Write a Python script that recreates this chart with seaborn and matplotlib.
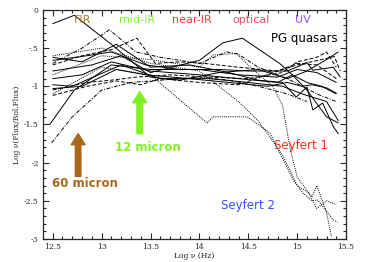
import numpy as np
import matplotlib
matplotlib.use("Agg")
import matplotlib.pyplot as plt
import seaborn as sns
from matplotlib.ticker import MultipleLocator

# PG quasars, solid lines (log nu, log nuF/Fbol)
pg_solid = [
    ([12.5, 12.72, 13.1, 13.5, 13.8, 14.2, 14.6, 14.9, 15.1, 15.3, 15.42],
     [-0.18, -0.07, -0.45, -0.88, -0.92, -0.82, -0.78, -0.9, -0.8, -0.65, -0.55]),
    ([12.5, 12.8, 13.15, 13.5, 13.9, 14.3, 14.6, 14.85, 14.99, 15.1, 15.16, 15.26, 15.37, 15.42],
     [-0.62, -0.68, -0.45, -0.75, -0.72, -0.82, -0.92, -0.95, -1.14, -1.01, -1.31, -1.22, -1.53, -1.62]),
    ([12.5, 12.85, 13.1, 13.45, 13.8, 14.2, 14.5, 14.9, 15.1, 15.16, 15.37, 15.44],
     [-0.66, -0.6, -0.55, -0.72, -0.78, -0.78, -0.8, -0.8, -0.69, -0.79, -0.75, -0.88]),
    ([12.5, 12.9, 13.2, 13.5, 14.0, 14.24, 14.44, 14.82, 14.95, 15.1, 15.25, 15.4],
     [-0.8, -0.72, -0.6, -0.82, -0.66, -0.43, -0.37, -0.7, -0.85, -0.95, -1.0, -1.1]),
    ([12.5, 12.8, 13.1, 13.5, 14.0, 14.4, 14.8, 14.95, 15.1, 15.3, 15.42],
     [-0.9, -0.85, -0.68, -0.8, -0.85, -0.9, -0.95, -0.85, -1.05, -1.4, -1.48]),
    ([12.5, 12.8, 13.15, 13.45, 13.9, 14.3, 14.7, 14.9, 15.05, 15.15, 15.3, 15.4],
     [-1.03, -1.0, -0.78, -0.85, -0.9, -0.95, -1.0, -0.95, -1.0, -0.98, -1.02, -1.09]),
    ([12.47, 12.72, 13.1, 13.5, 14.0, 14.4, 14.8, 15.0, 15.2, 15.4],
     [-1.5, -1.05, -0.72, -0.78, -0.78, -0.85, -0.88, -0.78, -0.82, -0.95]),
    ([12.5, 12.7, 13.2, 13.6, 14.1, 14.5, 14.85, 15.05, 15.3, 15.42],
     [-0.98, -1.0, -0.72, -0.9, -0.9, -0.95, -1.0, -1.1, -1.2, -1.45]),
]

# PG quasars, dashed lines
pg_dashed = [
    ([12.5, 12.85, 13.1, 13.35, 13.7, 14.1, 14.5, 14.85, 15.0, 15.2, 15.3, 15.4],
     [-1.05, -0.95, -0.92, -0.88, -0.85, -0.88, -0.9, -0.82, -0.68, -0.62, -0.55, -0.75]),
    ([12.5, 12.85, 13.15, 13.4, 13.6, 14.0, 14.4, 14.8, 15.0, 15.25, 15.38, 15.44],
     [-1.12, -1.0, -0.93, -0.98, -0.9, -0.95, -0.98, -0.8, -0.72, -0.65, -0.61, -0.8]),
    ([12.5, 12.8, 13.1, 13.36, 13.55, 13.8, 14.05, 14.4, 14.8, 15.0, 15.2, 15.4],
     [-0.72, -0.6, -0.52, -0.37, -0.7, -0.68, -0.7, -0.75, -0.8, -0.7, -0.72, -0.9]),
]

# dash-dot lines
pg_dashdot = [
    ([12.5, 12.8, 13.08, 13.35, 13.6, 14.0, 14.28, 14.4, 14.6, 14.9, 15.2, 15.4],
     [-0.7, -0.5, -0.26, -0.55, -0.62, -0.7, -0.55, -0.58, -0.75, -0.9, -1.1, -1.2]),
    ([12.49, 12.7, 13.0, 13.3, 13.6, 14.0, 14.3, 14.6, 14.9, 15.1],
     [-1.74, -1.4, -1.05, -0.95, -0.92, -0.88, -0.92, -1.0, -1.1, -1.2]),
]

# Seyferts, dotted lines
seyfert = [
    ([12.5, 13.0, 13.5, 14.0, 14.14, 14.38, 14.52, 14.75, 14.85, 14.93, 15.0, 15.15, 15.2, 15.3, 15.35],
     [-0.85, -0.6, -0.65, -0.75, -0.59, -0.57, -0.75, -1.0, -1.25, -1.83, -2.19, -2.45, -2.3, -2.65, -2.97]),
    ([12.5, 13.0, 13.5, 13.8, 14.08, 14.14, 14.49, 14.72, 14.96, 15.06, 15.15, 15.21, 15.37, 15.41],
     [-1.1, -0.75, -0.85, -1.18, -1.48, -1.40, -1.40, -1.61, -2.23, -2.4, -2.5, -2.49, -2.75, -2.78]),
    ([12.5, 13.0, 13.5, 14.0, 14.4, 14.6, 14.85, 15.0, 15.12, 15.2, 15.3, 15.4],
     [-0.6, -0.5, -0.7, -0.8, -1.2, -1.45, -1.9, -2.3, -2.4, -2.6, -2.5, -2.55]),
]

band_names = ["FIR", "mid-IR", "near-IR", "optical", "UV"]
band_x = [12.81, 13.36, 13.92, 14.53, 15.06]
band_colors = ["#b07a28", "#7ff23a", "#ff3a3a", "#e0506a", "#a050f0"]

sns.set_style("ticks")
fig = plt.figure(figsize=(3.67, 2.62), dpi=100)
ax = fig.add_axes([0.117, 0.088, 0.826, 0.874])

groups = [(pg_solid, "-"), (pg_dashed, (0, (4, 2))), (pg_dashdot, (0, (4, 1.5, 1, 1.5))),
          (seyfert, (0, (1, 1.2)))]
for lines, ls in groups:
    for xs, ys in lines:
        sns.lineplot(x=xs, y=ys, ax=ax, color="black", linewidth=0.7, linestyle=ls,
                     sort=False, estimator=None)

ax.set_xlim(12.4, 15.5)
ax.set_ylim(-3, 0)
ax.set_xticks([12.5, 13, 13.5, 14, 14.5, 15, 15.5])
ax.set_xticklabels(["12.5", "13", "13.5", "14", "14.5", "15", "15.5"])
ax.set_yticks([0, -0.5, -1, -1.5, -2, -2.5, -3])
ax.set_yticklabels(["0", "-.5", "-1", "-1.5", "-2", "-2.5", "-3"])
ax.xaxis.set_minor_locator(MultipleLocator(0.1))
ax.yaxis.set_minor_locator(MultipleLocator(0.1))
ax.tick_params(which="both", direction="in", top=True, right=True, width=0.8)
ax.tick_params(which="major", length=4, labelsize=5.5, pad=3)
ax.tick_params(which="minor", length=2)
for lab in ax.get_xticklabels() + ax.get_yticklabels():
    lab.set_family("DejaVu Serif")
for s in ax.spines.values():
    s.set_linewidth(0.9)

ax.set_xlabel("Log ν (Hz)", fontsize=5.5, family="DejaVu Serif", labelpad=1)
ax.set_ylabel("Log ν(Flux/Bol.Flux)", fontsize=5.5, family="DejaVu Serif", labelpad=2)

for name, bx, c in zip(band_names, band_x, band_colors):
    ax.text(bx, -0.13, name, color=c, fontsize=8, ha="center", va="center")
ax.text(15.07, -0.38, "PG quasars", color="black", fontsize=8.5, ha="center", va="center")
ax.text(15.04, -1.77, "Seyfert 1", color="#ff2a1a", fontsize=8.5, ha="center", va="center")
ax.text(14.5, -2.56, "Seyfert 2", color="#3050f0", fontsize=8.5, ha="center", va="center")

ax.annotate("", xy=(13.39, -1.07), xytext=(13.39, -1.62),
            arrowprops=dict(facecolor="#80f020", edgecolor="#80f020", width=4, headwidth=10,
                            headlength=8))
ax.text(13.47, -1.8, "12 micron", color="#80f020", fontsize=8.5, ha="center", va="center",
        weight="semibold")
ax.annotate("", xy=(12.76, -1.62), xytext=(12.76, -2.18),
            arrowprops=dict(facecolor="#a8681c", edgecolor="#a8681c", width=4, headwidth=10,
                            headlength=8))
ax.text(12.83, -2.28, "60 micron", color="#a8681c", fontsize=8.5, ha="center", va="center",
        weight="semibold")

fig.savefig("out.png", dpi=100)
